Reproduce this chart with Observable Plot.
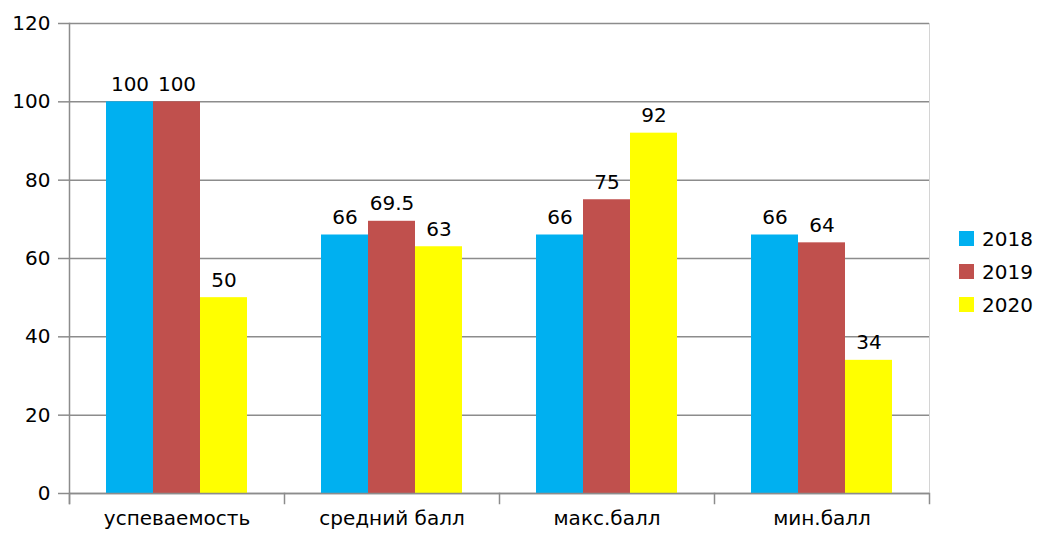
<!DOCTYPE html>
<html>
<head>
<meta charset="utf-8">
<script src="https://cdn.jsdelivr.net/npm/d3@7"></script>
<script src="https://cdn.jsdelivr.net/npm/@observablehq/plot@0.6"></script>
<style>
  html, body { margin: 0; padding: 0; background: #fff; }
  #wrap { position: relative; width: 1041px; height: 533px; font-family: "DejaVu Sans", sans-serif; }
  #legend { position: absolute; left: 959px; top: 222px; font-size: 20px; color: #000; }
  .row { display: flex; align-items: center; height: 33px; }
  .sw { width: 15px; height: 15px; margin-right: 8px; }
</style>
</head>
<body>
<div id="wrap"><div id="chart"></div><div id="legend"></div></div>
<script>
const categories = ["успеваемость", "средний балл", "макс.балл", "мин.балл"];
const years = ["2018", "2019", "2020"];
const values2018 = [100, 66, 66, 66];
const values2019 = [100, 69.5, 75, 64];
const values2020 = [50, 63, 92, 34];
const yTicks = [0, 20, 40, 60, 80, 100, 120];
const colors = ["#00B0F0", "#C0504D", "#FFFF00"];

const series = [values2018, values2019, values2020];
const data = [];
categories.forEach((c, i) => {
  years.forEach((y, j) => data.push({cat: c, year: y, value: series[j][i]}));
});

const gridColor = "#8c8c8c";

const chart = Plot.plot({
  width: 1041,
  height: 533,
  marginLeft: 69,
  marginRight: 112,
  marginTop: 23,
  marginBottom: 40,
  style: {fontFamily: "DejaVu Sans, sans-serif", fontSize: "20px", color: "#000", background: "#fff"},
  fx: {domain: categories, padding: 0, axis: "bottom", tickSize: 0, tickPadding: 17, label: null},
  x: {domain: years, paddingInner: 0, paddingOuter: 0.74, axis: null},
  y: {domain: [0, 120], axis: null},
  color: {domain: years, range: colors},
  marks: [
    Plot.ruleY(yTicks, {stroke: gridColor, strokeWidth: 1.5}),
    Plot.axisY(yTicks, {tickSize: 11, tickPadding: 8, stroke: gridColor, strokeWidth: 1.5, fill: "#000", label: null, fontSize: 20}),
    Plot.frame({anchor: "right", facetAnchor: "right", stroke: "#d4d4d4", strokeWidth: 1}),
    Plot.barY(data, {fx: "cat", x: "year", y: "value", fill: "year"}),
    Plot.text(data, {fx: "cat", x: "year", y: "value", text: d => String(d.value), lineAnchor: "bottom", dy: -11, fill: "#000", fontSize: 20}),
    Plot.frame({anchor: "left", facetAnchor: "left", stroke: gridColor, strokeWidth: 1.5, insetBottom: -10}),
    Plot.frame({anchor: "left", stroke: gridColor, strokeWidth: 1.5, insetTop: 470, insetBottom: -10}),
    Plot.frame({anchor: "right", facetAnchor: "right", stroke: gridColor, strokeWidth: 1.5, insetTop: 470, insetBottom: -10}),
    Plot.ruleY([0], {stroke: gridColor, strokeWidth: 1.5})
  ]
});
document.getElementById("chart").appendChild(chart);

const legend = document.getElementById("legend");
years.forEach((y, j) => {
  const row = document.createElement("div");
  row.className = "row";
  const sw = document.createElement("div");
  sw.className = "sw";
  sw.style.background = colors[j];
  const t = document.createElement("span");
  t.textContent = y;
  row.appendChild(sw);
  row.appendChild(t);
  legend.appendChild(row);
});
</script>
</body>
</html>
